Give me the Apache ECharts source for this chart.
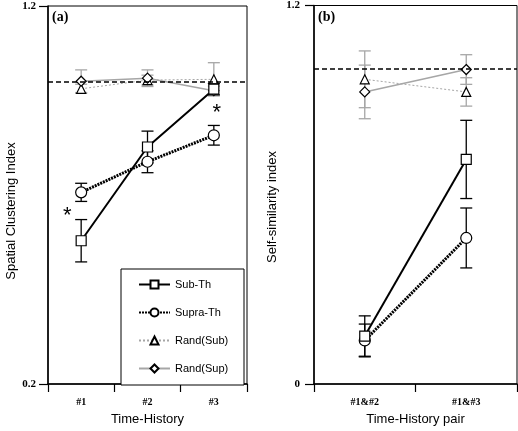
<!DOCTYPE html>
<html>
<head>
<meta charset="utf-8">
<script src="https://cdn.jsdelivr.net/npm/echarts@6.0.0/dist/echarts.min.js"></script>
<style>html,body{margin:0;padding:0;background:#fff;}#c{width:518px;height:431px;}</style>
</head>
<body>
<div id="c"></div>
<script>
// ---- data ----
var catsA = ['#1', '#2', '#3'];
var catsB = ['#1&#2', '#1&#3'];
var yTicksA = [0.2, 1.2];
var yTicksB = [0, 1.2];
var refLevel = 1.0;

var subA = [0.579, 0.827, 0.980];
var subAErr = [0.056, 0.042, 0.015];
var supraA = [0.707, 0.788, 0.858];
var supraAErr = [0.024, 0.029, 0.026];
var randSubA = [0.981, 1.004, 1.006];
var randSubAErr = [0.012, 0.013, 0.044];
var randSupA = [1.001, 1.009, 0.976];
var randSupAErr = [0.030, 0.022, 0.012];

var subB = [0.152, 0.712];
var subBErr = [0.064, 0.124];
var supraB = [0.138, 0.463];
var supraBErr = [0.052, 0.095];
var randSubB = [0.966, 0.926];
var randSubBErr = [0.090, 0.045];
var randSupB = [0.926, 0.997];
var randSupBErr = [0.085, 0.047];

// asterisks: [category index, value]
var starsA = [[0, 0.661], [2, 0.933]];
var starsShift = [-14, 3];

// ---- helpers ----
var GRAY = '#a6a6a6';
var SANS = 'Liberation Sans';
var SERIF = 'Liberation Serif';

function errData(vals, errs) {
  return vals.map(function (v, i) { return [i, v, v - errs[i], v + errs[i]]; });
}
function errSeries(idx, vals, errs, color, z) {
  return {
    type: 'custom', xAxisIndex: idx, yAxisIndex: idx, z: z, silent: true,
    encode: { x: 0, y: [1, 2, 3] },
    data: errData(vals, errs),
    renderItem: function (params, api) {
      var x = api.value(0);
      var lo = api.coord([x, api.value(2)]);
      var hi = api.coord([x, api.value(3)]);
      var w = 6;
      var st = { stroke: color, lineWidth: 1.3 };
      return {
        type: 'group', children: [
          { type: 'line', shape: { x1: lo[0], y1: lo[1], x2: hi[0], y2: hi[1] }, style: st },
          { type: 'line', shape: { x1: lo[0] - w, y1: lo[1], x2: lo[0] + w, y2: lo[1] }, style: st },
          { type: 'line', shape: { x1: hi[0] - w, y1: hi[1], x2: hi[0] + w, y2: hi[1] }, style: st }
        ]
      };
    }
  };
}
var styles = {
  'Sub-Th': { symbol: 'rect', symbolSize: 10, lineStyle: { color: '#000', width: 2, type: 'solid' }, z: 6 },
  'Supra-Th': { symbol: 'circle', symbolSize: 11, lineStyle: { color: '#000', width: 3, type: [2, 1] }, z: 5 },
  'Rand(Sub)': { symbol: 'triangle', symbolSize: 9, lineStyle: { color: GRAY, width: 1, type: [2, 2] }, z: 4 },
  'Rand(Sup)': { symbol: 'diamond', symbolSize: 10, lineStyle: { color: GRAY, width: 1.5, type: 'solid' }, z: 4 }
};
function lineSeries(idx, name, vals, extra) {
  var s = styles[name];
  var o = {
    type: 'line', name: name, xAxisIndex: idx, yAxisIndex: idx, data: vals,
    symbol: s.symbol, symbolSize: s.symbolSize, showAllSymbol: true,
    lineStyle: s.lineStyle, z: s.z, silent: true, animation: false,
    itemStyle: { color: '#fff', borderColor: '#000', borderWidth: 1.2 },
    emphasis: { disabled: true }
  };
  if (extra) for (var k in extra) o[k] = extra[k];
  return o;
}
function refLine() {
  return {
    markLine: {
      silent: true, symbol: ['none', 'none'], label: { show: false },
      lineStyle: { color: '#000', width: 1.5, type: [5, 3] },
      data: [{ yAxis: refLevel }], animation: false
    }
  };
}

function xAxisCfg(idx, cats, name) {
  return {
    type: 'category', gridIndex: idx, data: cats, boundaryGap: true,
    name: name, nameLocation: 'middle', nameGap: 29,
    nameTextStyle: { fontFamily: SANS, fontSize: 13, color: '#000' },
    axisLine: { lineStyle: { color: '#000', width: 1.5 } },
    axisTick: { show: true, length: 8, inside: false, alignWithLabel: false, lineStyle: { color: '#000', width: 1.2 } },
    axisLabel: { margin: 13, fontFamily: SERIF, fontWeight: 'bold', fontSize: 10, color: '#000' },
    splitLine: { show: false }
  };
}
function yAxisCfg(idx, min, max, ticks, margin) {
  return {
    type: 'value', gridIndex: idx, min: min, max: max, interval: 0.2,
    axisLine: { show: true, lineStyle: { color: '#000', width: 1.5 } },
    axisTick: { show: true, length: 9, inside: false, customValues: ticks, lineStyle: { color: '#000', width: 1.2 } },
    axisLabel: {
      margin: margin, customValues: ticks, fontFamily: SERIF, fontWeight: 'bold', fontSize: 11, color: '#000',
      formatter: function (v) {
        if (Math.abs(v) < 1e-9) return '0';
        return (Math.round(v * 10) / 10).toFixed(1);
      }
    },
    splitLine: { show: false }
  };
}

var chart = echarts.init(document.getElementById('c'), null, { renderer: 'canvas' });
var option = {
  animation: false,
  backgroundColor: '#fff',
  grid: [
    { left: 48, top: 6, width: 199, height: 382, show: true, borderColor: '#000', borderWidth: 1, backgroundColor: 'transparent' },
    { left: 314, top: 4, width: 203, height: 384, show: true, borderColor: '#000', borderWidth: 1, backgroundColor: 'transparent' }
  ],
  xAxis: [xAxisCfg(0, catsA, 'Time-History'), xAxisCfg(1, catsB, 'Time-History pair')],
  yAxis: [yAxisCfg(0, 0.2, 1.2, yTicksA, 12), yAxisCfg(1, 0, 1.2, yTicksB, 14)],
  legend: {
    orient: 'vertical', left: 133, top: 274, itemGap: 17, itemWidth: 31, itemHeight: 10,
    data: ['Sub-Th', 'Supra-Th', 'Rand(Sub)', 'Rand(Sup)'],
    textStyle: { fontFamily: SANS, fontSize: 11, color: '#000' },
    selectedMode: false, z: 10
  },
  graphic: [
    { type: 'rect', z: 9, shape: { x: 121, y: 269, width: 123, height: 116 }, style: { fill: '#fff', stroke: '#000', lineWidth: 1 } },
    { type: 'text', z: 10, x: 52, y: 10, style: { text: '(a)', font: 'bold 14px "Liberation Serif"', fill: '#000' } },
    { type: 'text', z: 10, x: 318, y: 10, style: { text: '(b)', font: 'bold 14px "Liberation Serif"', fill: '#000' } },
    { type: 'text', z: 10, x: 11, y: 211, rotation: Math.PI / 2,
      style: { text: 'Spatial Clustering Index', font: '13px "Liberation Sans"', fill: '#000', align: 'center', verticalAlign: 'middle' } },
    { type: 'text', z: 10, x: 272, y: 207, rotation: Math.PI / 2,
      style: { text: 'Self-similarity index', font: '13px "Liberation Sans"', fill: '#000', align: 'center', verticalAlign: 'middle' } }
  ],
  series: [
    errSeries(0, randSubA, randSubAErr, GRAY, 1),
    errSeries(0, randSupA, randSupAErr, GRAY, 1),
    errSeries(0, subA, subAErr, '#000', 2),
    errSeries(0, supraA, supraAErr, '#000', 2),
    lineSeries(0, 'Rand(Sub)', randSubA, refLine()),
    lineSeries(0, 'Rand(Sup)', randSupA),
    lineSeries(0, 'Supra-Th', supraA),
    lineSeries(0, 'Sub-Th', subA),
    {
      type: 'custom', xAxisIndex: 0, yAxisIndex: 0, silent: true, z: 7,
      encode: { x: 0, y: 1 },
      data: starsA,
      renderItem: function (params, api) {
        var p = api.coord([api.value(0), api.value(1)]);
        return {
          type: 'text', x: p[0] + starsShift[params.dataIndex], y: p[1] + 6,
          style: { text: '*', font: '22px "Liberation Sans"', fill: '#000', align: 'center', verticalAlign: 'middle' }
        };
      }
    },
    errSeries(1, randSubB, randSubBErr, GRAY, 1),
    errSeries(1, randSupB, randSupBErr, GRAY, 1),
    errSeries(1, subB, subBErr, '#000', 2),
    errSeries(1, supraB, supraBErr, '#000', 2),
    lineSeries(1, 'Rand(Sub)', randSubB, refLine()),
    lineSeries(1, 'Rand(Sup)', randSupB),
    lineSeries(1, 'Supra-Th', supraB),
    lineSeries(1, 'Sub-Th', subB)
  ]
};
chart.setOption(option);
</script>
</body>
</html>
